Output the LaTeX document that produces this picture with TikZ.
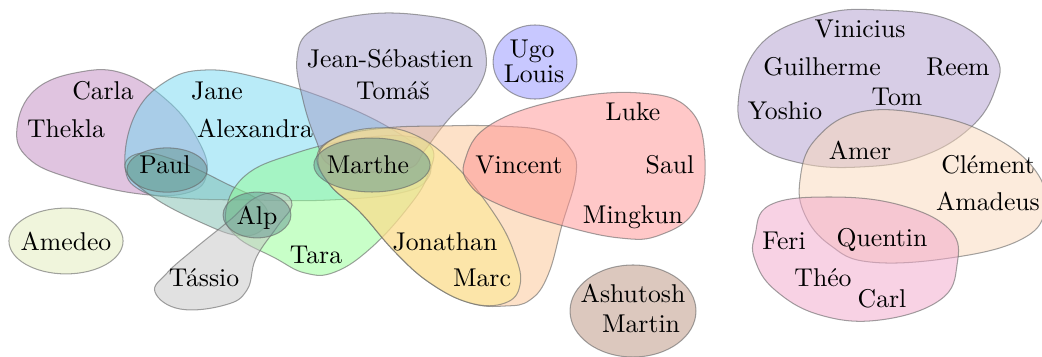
\documentclass[tikz,border=0pt]{standalone}
\usepackage{tikz}

\definecolor{plumblob}{RGB}{193,137,193}
\definecolor{cyanblob}{RGB}{115,215,241}
\definecolor{lavblob}{RGB}{161,155,201}
\definecolor{ugoblob}{RGB}{145,145,255}
\definecolor{greenblob}{RGB}{145,255,145}
\definecolor{yellowblob}{RGB}{251,235,140}
\definecolor{peachblob}{RGB}{251,195,145}
\definecolor{redblob}{RGB}{255,145,145}
\definecolor{brownblob}{RGB}{185,145,125}
\definecolor{grayblob}{RGB}{195,195,195}
\definecolor{amedeoblob}{RGB}{225,235,185}
\definecolor{viniblob}{RGB}{175,155,205}
\definecolor{clemblob}{RGB}{249,215,185}
\definecolor{pinkblob}{RGB}{241,165,201}
\definecolor{tealblob}{RGB}{125,189,175}
\definecolor{smallblob}{RGB}{100,150,145}

\begin{document}
\begin{tikzpicture}[x=0.389pt,y=-0.389pt,
  blob/.style={draw=black!60,draw opacity=0.6,fill opacity=0.5,line width=0.4pt},
  person/.style={inner sep=0pt,text height=1.6ex,text depth=0.25ex}]
\useasboundingbox (0,0) rectangle (1042,356);
\draw[blob,fill=plumblob] plot[smooth cycle,tension=0.7] coordinates {(17,128) (35,90) (80,72) (125,74) (170,103) (198,140) (207,172) (190,192) (140,194) (70,178) (28,158)};
\draw[blob,fill=cyanblob] plot[smooth cycle,tension=0.7] coordinates {(125,165) (135,115) (165,82) (205,70) (260,78) (330,100) (390,128) (425,155) (428,178) (400,193) (330,200) (250,200) (180,198) (140,190)};
\draw[blob,fill=tealblob] plot[smooth cycle,tension=0.7] coordinates {(125,168) (142,153) (180,162) (225,183) (262,203) (266,225) (242,236) (200,222) (150,195)};
\draw[blob,fill=greenblob] plot[smooth cycle,tension=0.7] coordinates {(226,210) (246,175) (293,154) (350,140) (405,136) (432,148) (428,175) (410,205) (372,247) (335,272) (305,273) (275,258) (236,236)};
\draw[blob,fill=lavblob] plot[smooth cycle,tension=0.7] coordinates {(297,58) (312,30) (360,15) (420,15) (470,28) (486,55) (478,88) (448,120) (425,150) (410,168) (370,172) (330,165) (316,140) (303,100)};
\draw[blob,fill=peachblob] plot[smooth cycle,tension=0.7] coordinates {(317,156) (338,137) (385,128) (440,126) (495,126) (545,131) (570,148) (576,175) (562,225) (548,275) (530,300) (505,306) (470,303) (430,283) (395,252) (360,212) (330,185)};
\draw[blob,fill=yellowblob] plot[smooth cycle,tension=0.7] coordinates {(318,158) (335,138) (375,128) (415,135) (455,165) (495,215) (515,255) (520,285) (505,303) (470,303) (430,283) (395,252) (360,212) (330,185)};
\draw[blob,fill=redblob] plot[smooth cycle,tension=0.7] coordinates {(465,160) (490,125) (560,100) (640,93) (690,110) (705,160) (695,210) (660,235) (620,238) (560,225) (500,205) (470,185)};
\draw[blob,fill=grayblob] plot[smooth cycle,tension=0.7] coordinates {(155,292) (167,273) (193,250) (230,220) (255,198) (280,193) (292,205) (277,227) (256,258) (247,290) (225,305) (180,309)};
\draw[blob,fill=ugoblob] (535,62) ellipse (16.3pt and 14.4pt);
\draw[blob,fill=brownblob] (633,311) ellipse (24.5pt and 17.9pt);
\draw[blob,fill=amedeoblob] (66,241) ellipse (22.2pt and 12.8pt);
\draw[blob,fill=viniblob] plot[smooth cycle,tension=0.7] coordinates {(738,105) (760,45) (820,15) (880,10) (950,20) (995,55) (995,90) (970,128) (920,157) (860,167) (800,163) (755,143)};
\draw[blob,fill=clemblob] plot[smooth cycle,tension=0.7] coordinates {(800,180) (815,140) (860,112) (930,115) (990,135) (1035,170) (1045,210) (1020,240) (950,258) (870,262) (830,245) (805,215)};
\draw[blob,fill=pinkblob] plot[smooth cycle,tension=0.7] coordinates {(755,235) (770,205) (830,197) (900,205) (950,230) (957,265) (940,300) (880,320) (820,315) (775,290) (755,260)};
\draw[blob,fill=smallblob] (167,170) ellipse (15.6pt and 8.6pt);
\draw[blob,fill=smallblob] (257,215) ellipse (13.2pt and 8.9pt);
\draw[blob,fill=smallblob] (372,165) ellipse (22.6pt and 10.5pt);
\node[person] (carla) at (103,92) {Carla};
\node[person] (thekla) at (66,130) {Thekla};
\node[person] (jane) at (217,92) {Jane};
\node[person] (alexandra) at (255,130) {Alexandra};
\node[person] (paul) at (165,166) {Paul};
\node[person] (alp) at (257,217) {Alp};
\node[person] (amedeo) at (66,243) {Amedeo};
\node[person] (tassio) at (204,279) {Tássio};
\node[person] (tara) at (316,256) {Tara};
\node[person] (jeanseb) at (390,60) {Jean-Sébastien};
\node[person] (tomas) at (393,92) {Tomáš};
\node[person] (ugo) at (532,50) {Ugo};
\node[person] (louis) at (534,75) {Louis};
\node[person] (marthe) at (368,166) {Marthe};
\node[person] (vincent) at (519,166) {Vincent};
\node[person] (jonathan) at (445,243) {Jonathan};
\node[person] (marc) at (482,279) {Marc};
\node[person] (luke) at (633,113) {Luke};
\node[person] (saul) at (670,166) {Saul};
\node[person] (mingkun) at (633,216) {Mingkun};
\node[person] (ashutosh) at (633,295) {Ashutosh};
\node[person] (martin) at (641,325) {Martin};
\node[person] (vinicius) at (860,30) {Vinicius};
\node[person] (guilherme) at (822,68) {Guilherme};
\node[person] (reem) at (958,68) {Reem};
\node[person] (tom) at (897,98) {Tom};
\node[person] (yoshio) at (785,112) {Yoshio};
\node[person] (amer) at (860,152) {Amer};
\node[person] (clement) at (988,166) {Clément};
\node[person] (amadeus) at (988,203) {Amadeus};
\node[person] (feri) at (784,242) {Feri};
\node[person] (quentin) at (882,239) {Quentin};
\node[person] (theo) at (823,279) {Théo};
\node[person] (carl) at (882,300) {Carl};
\end{tikzpicture}
\end{document}
